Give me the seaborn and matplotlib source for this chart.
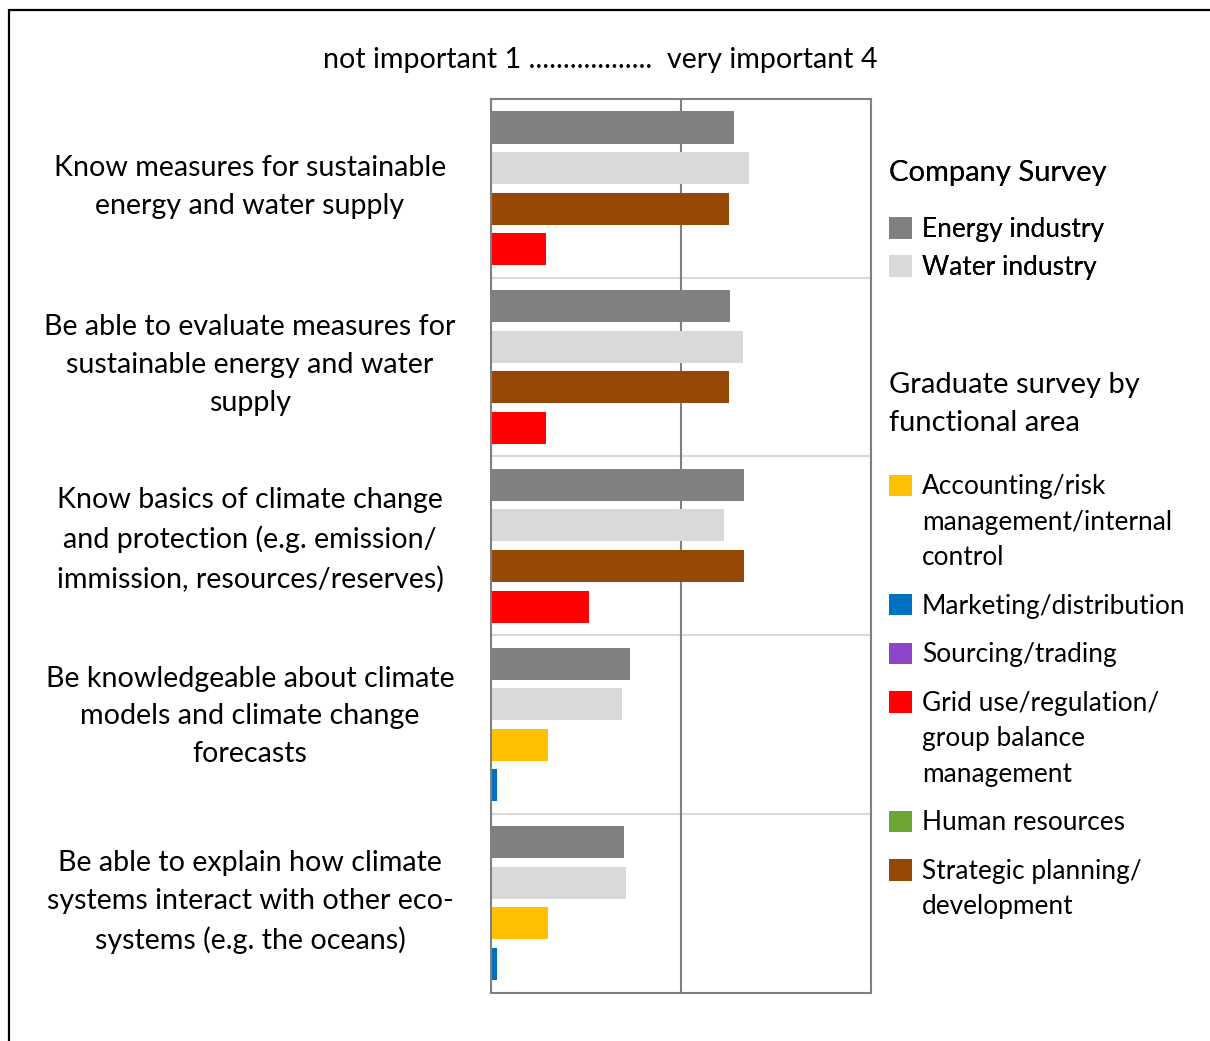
import numpy as np
import pandas as pd
import matplotlib
matplotlib.use("Agg")
import matplotlib.pyplot as plt
import seaborn as sns
from matplotlib.patches import Patch, Rectangle
from matplotlib.legend_handler import HandlerPatch
from matplotlib.transforms import ScaledTranslation
from matplotlib.text import Text
from matplotlib.font_manager import FontProperties

# ---------------- data ----------------
categories = [
    "Know measures for sustainable\nenergy and water supply",
    "Be able to evaluate measures for\nsustainable energy and water\nsupply",
    "Know basics of climate change\nand protection (e.g. emission/\nimmission, resources/reserves)",
    "Be knowledgeable about climate\nmodels and climate change\nforecasts",
    "Be able to explain how climate\nsystems interact with other eco-\nsystems (e.g. the oceans)",
]
nan = np.nan
energy_industry = [2.92, 2.89, 3.00, 2.10, 2.05]
water_industry = [3.04, 2.99, 2.84, 2.04, 2.07]
accounting = [nan, nan, nan, 1.45, 1.45]
marketing = [nan, nan, nan, 1.05, 1.05]
sourcing = [nan, nan, nan, nan, nan]
grid_use = [1.44, 1.44, 1.78, nan, nan]
human_resources = [nan, nan, nan, nan, nan]
strategic = [2.88, 2.88, 3.00, nan, nan]

series_names = [
    "Energy industry", "Water industry",
    "Accounting/risk\nmanagement/internal\ncontrol", "Marketing/distribution",
    "Sourcing/trading", "Grid use/regulation/\ngroup balance\nmanagement",
    "Human resources", "Strategic planning/\ndevelopment",
]
series_values = [energy_industry, water_industry, accounting, marketing,
                 sourcing, grid_use, human_resources, strategic]
series_colors = ["#808080", "#d9d9d9", "#ffc000", "#0070c0",
                 "#8f45c7", "#ff0000", "#6aa535", "#974706"]
series_slot = [0, 1, 2, 3, 2, 3, 2, 2]

axis_note = "not important 1 ..................  very important 4"
title_company = "Company Survey"
title_graduate = "Graduate survey by\nfunctional area"

rows = []
for name, vals, slot in zip(series_names, series_values, series_slot):
    for cat, v in zip(categories, vals):
        if not np.isnan(v):
            rows.append({"category": cat, "series": name, "slot": slot, "value": v})
df = pd.DataFrame(rows)
color_of = dict(zip(series_names, series_colors))

# ---------------- style ----------------
sns.set_theme(style="white")
FONT = "Lato"
plt.rcParams["font.family"] = [FONT, "DejaVu Sans"]
LABEL_FS = 20.6
LABEL_LS = 1.56
LEG_FS = 18.9
LEG_LS = 1.52
TITLE_FS = 21
TITLE_LS = 1.6
NOTE_FS = 20.6
label_raise_px = [1, 2, 6, 8, 1]

W, H = 1210, 1041
fig = plt.figure(figsize=(W / 100, H / 100), dpi=100)
ax = fig.add_axes([490.5 / W, 1 - 992.5 / H, (870.7 - 490.5) / W, (992.5 - 99) / H])

sns.barplot(data=df, x="value", y="category", hue="slot", order=categories,
            hue_order=[0, 1, 2, 3], orient="h", dodge=True, width=0.908, gap=0.21,
            errorbar=None, legend=False, linewidth=0, ax=ax)

# recolour each bar according to its series
for slot, cont in zip([0, 1, 2, 3], ax.containers):
    for bar in cont:
        ci = int(round(bar.get_y() + bar.get_height() / 2))
        sel = df[(df["category"] == categories[ci]) & (df["slot"] == slot)]
        if len(sel):
            bar.set_facecolor(color_of[sel["series"].iloc[0]])
            bar.set_edgecolor("none")

ax.set_xlim(1, 4)
ax.set_ylim(len(categories) - 0.5, -0.5)
ax.set_xlabel("")
ax.set_ylabel("")
ax.set_xticks([1, 2.5, 4])
ax.set_xticklabels([])
ax.set_yticks(np.arange(len(categories) - 1) + 0.5, minor=True)
ax.tick_params(axis="both", which="both", length=0)
ax.tick_params(axis="y", which="major", pad=(490.5 - 250) * 0.72, labelsize=LABEL_FS)
for lab, dy in zip(ax.get_yticklabels(), label_raise_px):
    lab.set_horizontalalignment("center")
    lab.set_verticalalignment("center")
    lab.set_multialignment("center")
    lab.set_linespacing(LABEL_LS)
    lab.set_color("black")
    lab.set_transform(lab.get_transform() +
                      ScaledTranslation(0, dy / 100, fig.dpi_scale_trans))

ax.set_axisbelow(True)
ax.grid(False)
ax.grid(which="minor", axis="y", color="#d9d9d9", linewidth=1.5)
ax.grid(which="major", axis="x", color="#808080", linewidth=1.5)
ax.xaxis.set_zorder(0.6)
for s in ax.spines.values():
    s.set_visible(True)
    s.set_color("#808080")
    s.set_linewidth(1.5)

fig.text(600 / W, 1 - 60 / H, axis_note, ha="center", va="center",
         fontsize=NOTE_FS, color="black")

# ---------------- legends ----------------
class FirstLineHandler(HandlerPatch):
    """Square swatch aligned with the first line of a multi-line label."""
    def create_artists(self, legend, orig_handle, xdescent, ydescent,
                       width, height, fontsize, trans):
        label = orig_handle.get_label()
        shift = 0.0
        if "\n" in label:
            r = fig.canvas.get_renderer()
            prop = FontProperties(family=FONT, size=fontsize)
            _, lh, ld = r.get_text_width_height_descent("lp", prop, ismath=False)
            _, h1, d1 = r.get_text_width_height_descent(label.split("\n")[0], prop,
                                                        ismath=False)
            asc1 = max(h1, lh) - max(d1, ld)
            t = Text(0, 0, label, fontproperties=prop, linespacing=LEG_LS)
            t.set_figure(fig)
            hb = t.get_window_extent(r).height
            shift_px = 0.5 * hb - asc1 + 0.5 * (lh - ld)
            shift = shift_px * 72 / fig.dpi
        p = Rectangle((-xdescent, -ydescent + shift), width, height)
        self.update_prop(p, orig_handle, legend)
        p.set_transform(trans)
        return [p]


def make_legend(names, title, anchor_y, labelspacing, title_sep):
    handles = [Patch(facecolor=color_of[n], edgecolor="none", label=n) for n in names]
    leg = fig.legend(handles=handles, title=title, loc="upper left",
                     bbox_to_anchor=(889 / W, 1 - anchor_y / H),
                     bbox_transform=fig.transFigure, frameon=False,
                     fontsize=LEG_FS, title_fontsize=TITLE_FS,
                     handlelength=0.88, handleheight=0.88, handletextpad=0.38,
                     labelspacing=labelspacing, borderpad=0, borderaxespad=0,
                     alignment="left",
                     handler_map={Patch: FirstLineHandler()})
    for t in leg.get_texts():
        t.set_linespacing(LEG_LS)
        t.set_color("black")
    leg.get_title().set_linespacing(TITLE_LS)
    leg.get_title().set_color("black")
    leg._legend_box.sep = title_sep
    return leg

leg1 = make_legend(series_names[:2], title_company, 159.5, 0.5, 22.7)
fig.add_artist(leg1)
leg2 = make_legend(series_names[2:], title_graduate, 371.5, 0.90, 27.5)

# outer frame of the figure (cut at right and bottom)
fig.add_artist(Rectangle((8.5 / W, -0.1), 1.2, 1.1 - 10.5 / H, fill=False,
                         edgecolor="black", linewidth=1.6,
                         transform=fig.transFigure, clip_on=False))

fig.savefig("out.png", dpi=100)
